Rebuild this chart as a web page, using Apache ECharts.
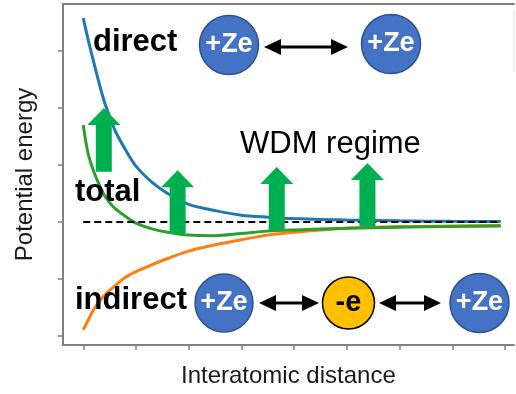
<!DOCTYPE html>
<html>
<head>
<meta charset="utf-8">
<script src="https://cdn.jsdelivr.net/npm/echarts@6/dist/echarts.min.js"></script>
<style>
  html, body { margin: 0; padding: 0; background: #fff; }
  #main { width: 516px; height: 394px; }
</style>
</head>
<body>
<div id="main"></div>
<script>
// interatomic distance samples (shared by the three curves)
var distance = [0, 0.05, 0.1, 0.2, 0.3, 0.4, 0.5, 0.6, 0.8, 1.0, 1.3, 1.6, 2.0, 2.5, 3.0, 3.5, 4.0, 5.0, 6.0, 7.0, 7.92];
var direct   = [3.58, 3.37, 3.17, 2.80, 2.44, 2.11, 1.85, 1.61, 1.27, 0.98, 0.70, 0.50, 0.31, 0.20, 0.12, 0.085, 0.06, 0.035, 0.02, 0.012, 0.01];
var total    = [1.70, 1.40, 1.17, 0.88, 0.66, 0.47, 0.34, 0.24, 0.10, -0.02, -0.12, -0.18, -0.23, -0.24, -0.20, -0.16, -0.14, -0.11, -0.09, -0.08, -0.07];
var indirect = [-1.89, -1.80, -1.71, -1.53, -1.40, -1.29, -1.20, -1.12, -0.97, -0.87, -0.75, -0.64, -0.51, -0.40, -0.31, -0.23, -0.18, -0.11, -0.08, -0.07, -0.06];

// zero energy reference (dashed)
var zeroLineX = [0, 7.92];

// green "WDM regime" arrows: [x, top, bottom]
var wdmArrowX      = [0.39, 1.79, 3.67, 5.39];
var wdmArrowTop    = [2.0, 0.91, 0.965, 1.035];
var wdmArrowBottom = [0.88, -0.20, -0.14, -0.08];

// tick positions on both axes (no labels in the figure)
var xTicks = [0, 1, 2, 3, 4, 5, 6, 7, 8];
var yTicks = [-2, -1, 0, 1, 2, 3];

var FONT = "'Liberation Sans', Arial, sans-serif";

function pairs(xs, ys) {
  var out = [];
  for (var i = 0; i < xs.length; i++) out.push([xs[i], ys[i]]);
  return out;
}

// double headed black arrow between two particles
function dblArrow(x1, x2, y) {
  var hl = 17, hh = 8;
  return [
    { type: 'line', shape: { x1: x1 + hl - 2, y1: y, x2: x2 - hl + 2, y2: y }, style: { stroke: '#000', lineWidth: 3 } },
    { type: 'polygon', shape: { points: [[x1, y], [x1 + hl, y - hh], [x1 + hl, y + hh]] }, style: { fill: '#000' } },
    { type: 'polygon', shape: { points: [[x2, y], [x2 - hl, y - hh], [x2 - hl, y + hh]] }, style: { fill: '#000' } }
  ];
}

function particle(cx, cy, r, label, fill, stroke, textColor, size) {
  return [
    { type: 'circle', shape: { cx: cx, cy: cy, r: r }, style: { fill: fill, stroke: stroke, lineWidth: 1.5 } },
    { type: 'text', style: { text: label, x: cx, y: cy, align: 'center', verticalAlign: 'middle',
        font: 'bold ' + size + 'px ' + FONT, fill: textColor } }
  ];
}

function word(text, x, y, bold) {
  return { type: 'text', style: { text: text, x: x, y: y, align: 'left', verticalAlign: 'middle',
      font: (bold ? 'bold ' : '') + '31px ' + FONT, fill: '#000' } };
}

var chart = echarts.init(document.getElementById('main'), null, { renderer: 'canvas' });

var axisLine = { show: true, onZero: false, lineStyle: { color: '#808080', width: 2 } };

var graphics = [].concat(
  particle(229, 45, 29.5, '+Ze', '#4472C4', '#2F528F', '#fff', 27),
  particle(391, 44, 29.5, '+Ze', '#4472C4', '#2F528F', '#fff', 27),
  dblArrow(264, 348, 47),
  particle(224, 303, 29, '+Ze', '#4472C4', '#2F528F', '#fff', 27),
  particle(348.5, 303, 26, '-e', '#FFC000', '#000', '#000', 29),
  particle(479.5, 303, 29.5, '+Ze', '#4472C4', '#2F528F', '#fff', 27),
  dblArrow(259, 319, 303),
  dblArrow(379, 441, 303),
  [
    word('direct', 93, 42, true),
    word('total', 75, 192, true),
    word('indirect', 75, 300, true),
    word('WDM regime', 240, 144, false),
    { type: 'line', shape: { x1: 514, y1: 10, x2: 514, y2: 72 }, style: { stroke: '#dcdcdc', lineWidth: 1 } }
  ]
);

var option = {
  animation: false,
  grid: { left: 62.7, right: 2, top: 4, bottom: 49 },
  xAxis: [{
    type: 'value',
    min: -0.39,
    max: 8.17,
    name: 'Interatomic distance',
    nameLocation: 'middle',
    nameGap: 19,
    nameTextStyle: { fontSize: 24, fontFamily: FONT, color: '#1a1a1a' },
    axisLine: axisLine,
    axisTick: { show: true, customValues: xTicks, length: 5, lineStyle: { color: '#808080', width: 1.5 } },
    axisLabel: { show: false },
    splitLine: { show: false }
  }, {
    type: 'value',
    position: 'top',
    min: 0, max: 1,
    axisLine: axisLine,
    axisTick: { show: false },
    axisLabel: { show: false },
    splitLine: { show: false }
  }],
  yAxis: {
    type: 'value',
    min: -2.158,
    max: 3.825,
    name: 'Potential energy',
    nameLocation: 'middle',
    nameGap: 25,
    nameTextStyle: { fontSize: 24, fontFamily: FONT, color: '#1a1a1a' },
    axisLine: axisLine,
    axisTick: { show: true, customValues: yTicks, length: 5, lineStyle: { color: '#808080', width: 1.5 } },
    axisLabel: { show: false },
    splitLine: { show: false }
  },
  series: [
    {
      name: 'direct', type: 'line', data: pairs(distance, direct),
      smooth: 0.3, showSymbol: false,
      lineStyle: { color: '#1f77b4', width: 3 }, z: 2
    },
    {
      name: 'indirect', type: 'line', data: pairs(distance, indirect),
      smooth: 0.3, showSymbol: false,
      lineStyle: { color: '#ff7f0e', width: 3 }, z: 3
    },
    {
      name: 'total', type: 'line', data: pairs(distance, total),
      smooth: 0.3, showSymbol: false,
      lineStyle: { color: '#2ca02c', width: 3 }, z: 4
    },
    {
      name: 'zero', type: 'line', data: pairs(zeroLineX, [0, 0]),
      showSymbol: false,
      lineStyle: { color: '#000', width: 2, type: [7, 4] }, z: 5
    },
    {
      name: 'wdm', type: 'custom', z: 6,
      encode: { x: 0, y: [1, 2] },
      data: wdmArrowX.map(function (x, i) { return [x, wdmArrowTop[i], wdmArrowBottom[i]]; }),
      renderItem: function (params, api) {
        var top = api.coord([api.value(0), api.value(1)]);
        var bot = api.coord([api.value(0), api.value(2)]);
        var cx = top[0], hw = 16.5, sw = 8, hl = 17;
        return {
          type: 'polygon',
          shape: { points: [
            [cx - sw, bot[1]], [cx - sw, top[1] + hl], [cx - hw, top[1] + hl], [cx, top[1]],
            [cx + hw, top[1] + hl], [cx + sw, top[1] + hl], [cx + sw, bot[1]]
          ] },
          style: { fill: '#00B050' }
        };
      }
    }
  ],
  graphic: { elements: graphics.map(function (g) { g.z = 100; return g; }) }
};

chart.setOption(option);
</script>
</body>
</html>
